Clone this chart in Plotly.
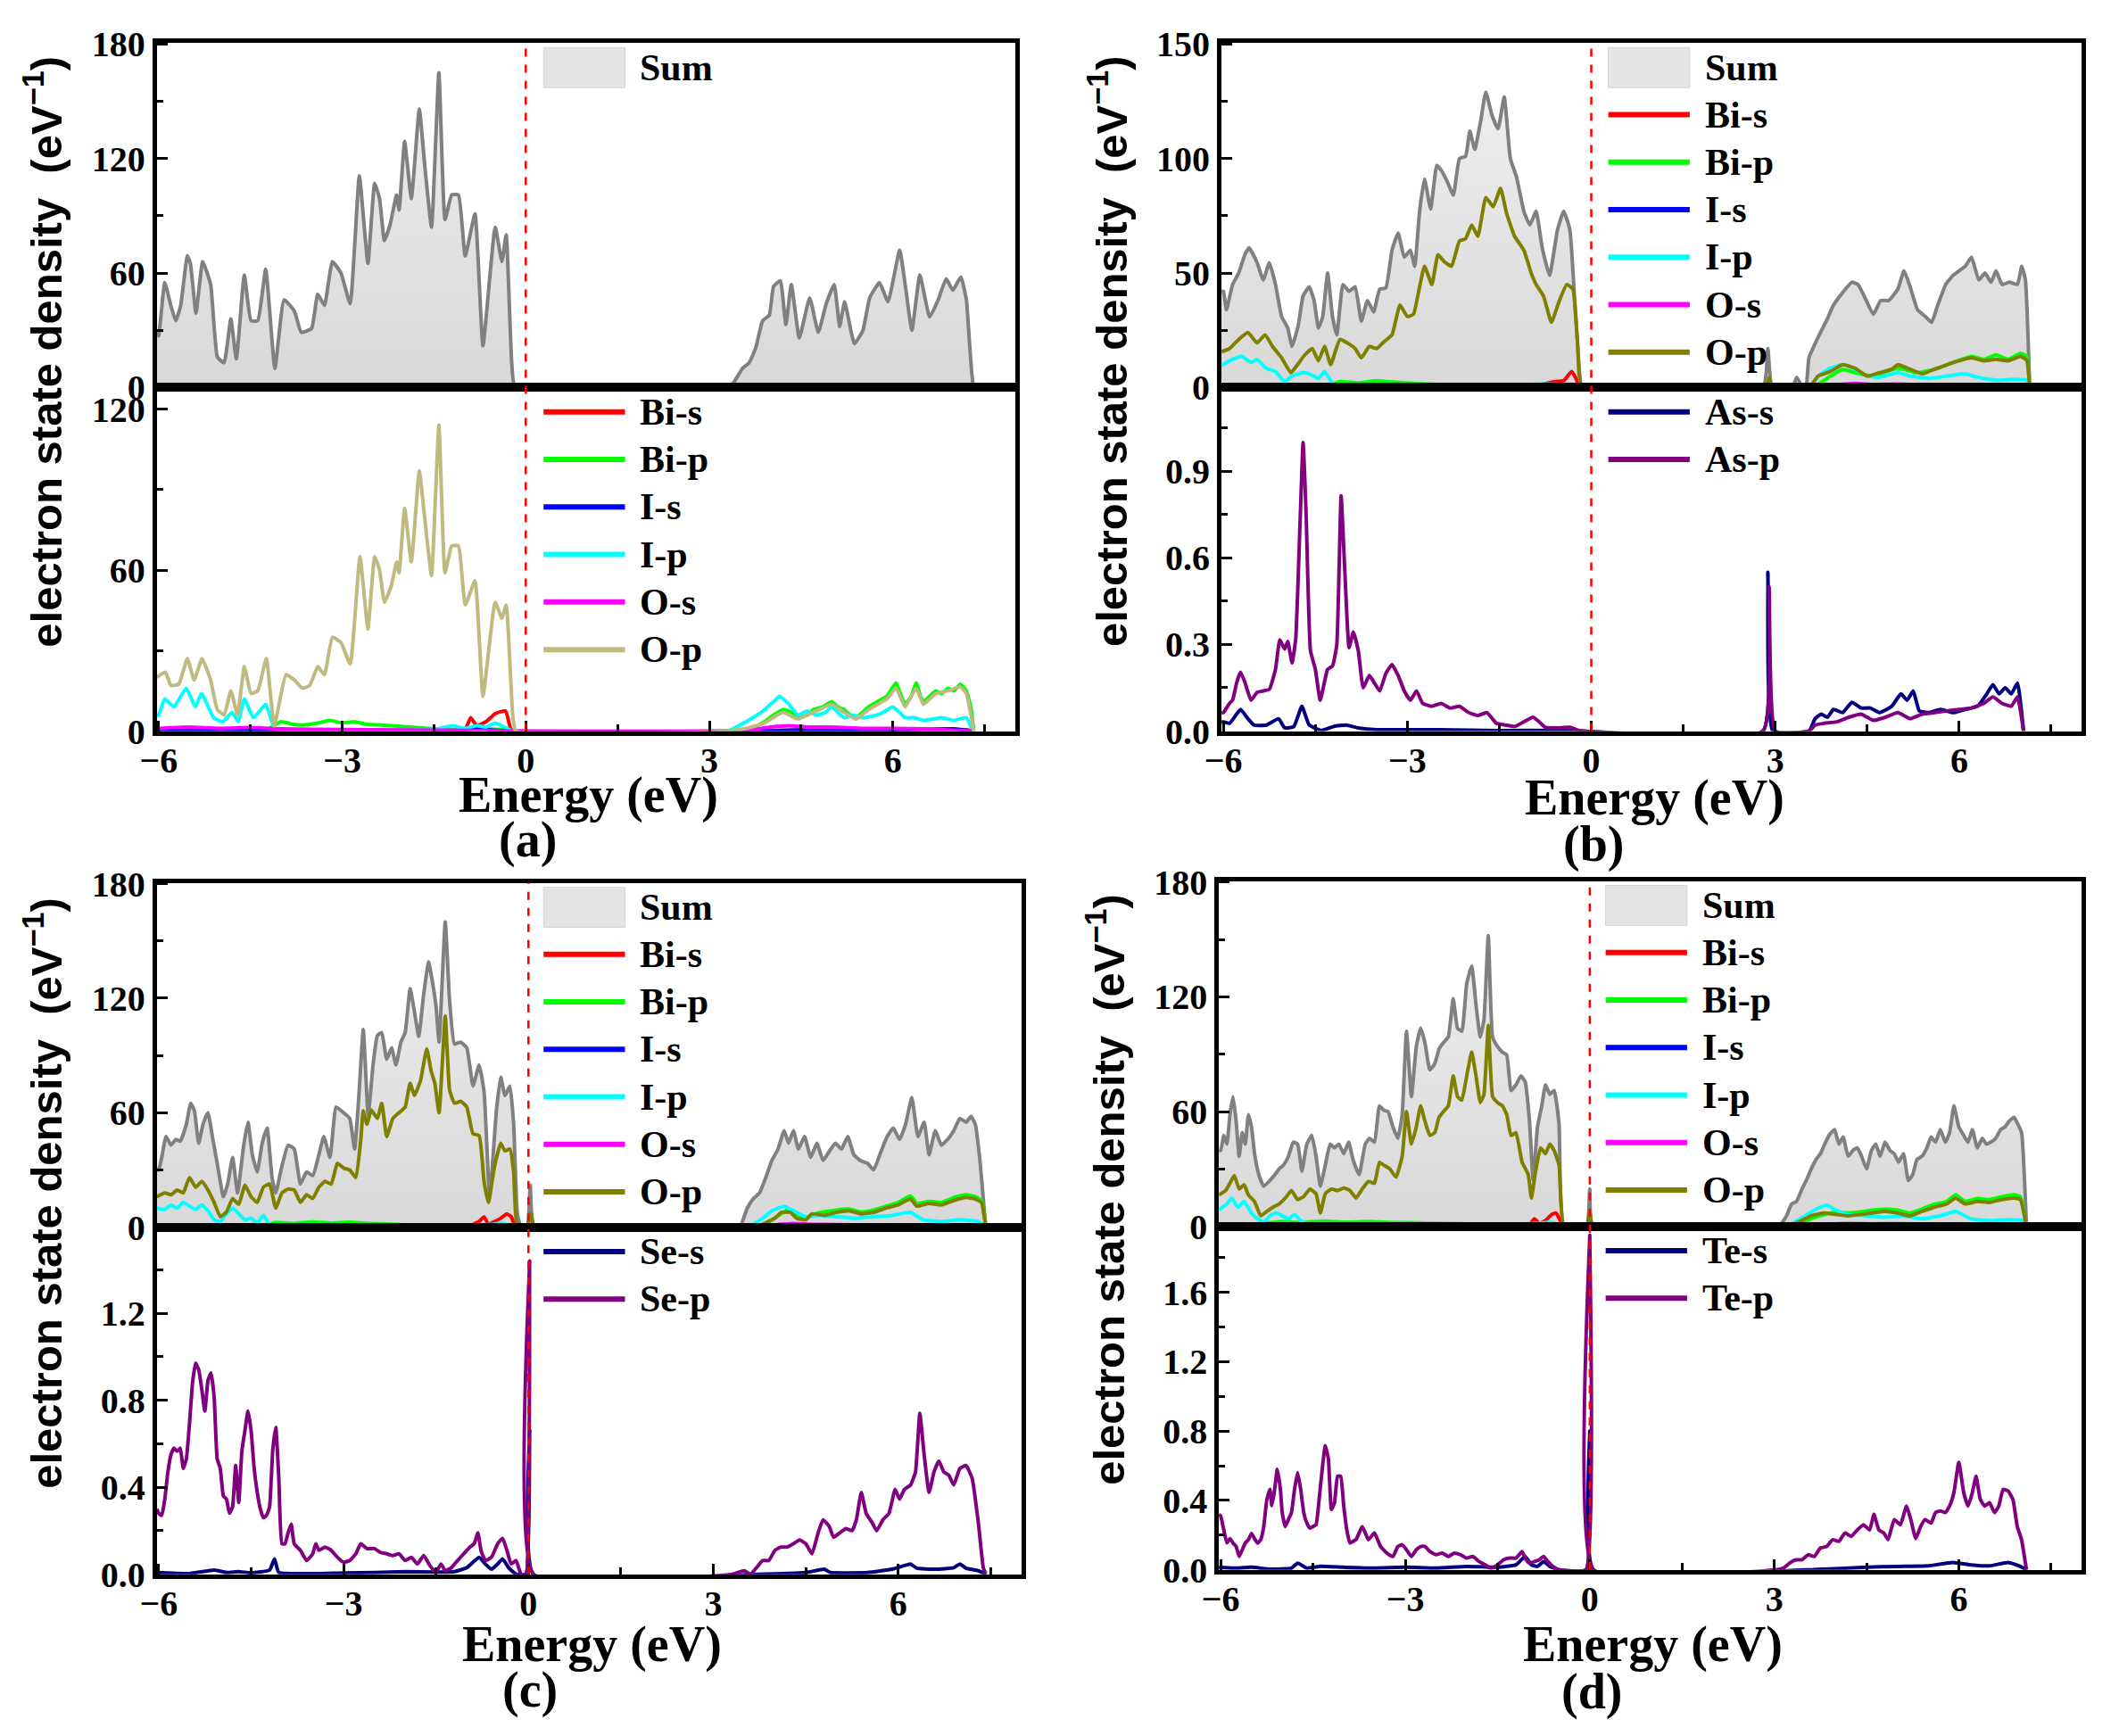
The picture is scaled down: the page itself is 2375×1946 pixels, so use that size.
import plotly.graph_objects as go

W, H = 2375, 1946

SUM_LINE = "#808080"
RED = "#FF0000"
GREEN = "#00FF00"
BLUE = "#0000FF"
CYAN = "#00FFFF"
MAGENTA = "#FF00FF"
OLIVE = "#808000"
KHAKI = "#BFBA80"
NAVY = "#000080"
PURPLE = "#800080"

# ---------------- data: (energy in eV, density of states) ----------------
# panel (a)
A_SUM = [(-6.03,30),(-6.0,27),(-5.9,55),(-5.8,43),(-5.72,35),(-5.64,43),(-5.53,69),(-5.48,65),(-5.39,39),(-5.28,66),
         (-5.15,54),(-5.04,16),(-4.93,13),(-4.82,36),(-4.73,15),(-4.6,59),(-4.49,35),(-4.38,35),(-4.25,62),(-4.1,10),
         (-3.95,46),(-3.78,40),(-3.67,29),(-3.5,31),(-3.4,49),(-3.29,43),(-3.16,66),(-3.02,60),(-2.87,44),(-2.72,111),
         (-2.58,65),(-2.47,107),(-2.39,99),(-2.31,77),(-2.22,85),(-2.11,101),(-2.07,93),(-1.98,129),(-1.87,99),(-1.74,146),
         (-1.65,116),(-1.54,84),(-1.42,165),(-1.32,88),(-1.21,101),(-1.1,101),(-0.99,69),(-0.83,91),(-0.7,22),(-0.5,84),
         (-0.39,66),(-0.32,80),(-0.23,13),(-0.17,0),(3.1,0),(3.16,1),(3.38,2),(3.54,10),(3.65,13),(3.76,21),(3.87,35),
         (3.98,38),(4.05,53),(4.16,56),(4.25,33),(4.34,54),(4.47,26),(4.64,47),(4.78,29),(4.91,44),(5.04,54),(5.13,32),
         (5.21,45),(5.37,23),(5.51,30),(5.62,47),(5.78,55),(5.92,45),(6.11,72),(6.2,54),(6.31,30),(6.44,59),(6.6,37),
         (6.74,46),(6.87,57),(6.98,51),(7.11,58),(7.2,46),(7.31,2),(7.37,0)]
A_BIS = [(-6.03,0.3),(-3.0,0.3),(-1.0,0.5),(-0.9,5),(-0.8,2),(-0.65,3.5),(-0.5,6.5),(-0.33,7.5),(-0.25,1),(-0.2,0),
         (3.5,0),(4.5,0.4),(6.0,0.5),(7.2,0.5),(7.3,0)]
A_BIP = [(-6.03,0.5),(-5.5,0.6),(-5.0,0.5),(-4.5,0.8),(-4.2,1),(-4.0,3.5),(-3.8,2.5),(-3.6,2.3),(-3.4,3),(-3.2,4),
         (-3.0,3),(-2.8,3.5),(-2.6,2.5),(-2.4,2.3),(-2.2,2),(-2.0,1.7),(-1.8,1.3),(-1.6,1),(-1.2,0.6),(-0.8,0.8),
         (-0.4,0.6),(-0.2,0),(3.5,0),(3.7,1),(3.9,3.5),(4.05,6),(4.2,8),(4.35,7),(4.45,5),(4.6,6),(4.7,8),(4.85,9),
         (5.0,11),(5.1,9),(5.2,8),(5.3,6),(5.4,5),(5.5,7),(5.6,9),(5.75,11),(5.9,13),(6.05,18),(6.12,14),(6.2,10),
         (6.3,13),(6.38,18),(6.45,13),(6.5,11),(6.6,13),(6.7,15),(6.8,14),(6.9,16),(7.0,15),(7.1,17.5),(7.2,15),
         (7.28,8),(7.32,0)]
A_IS = [(-6.03,0.2),(-4.0,0.2),(-1.0,0.3),(-0.7,1.5),(-0.6,0.5),(-0.2,0),(3.5,0),(4.5,0.4),(6.0,0.4),(7.0,0.8),(7.3,0)]
A_IP = [(-6.03,6),(-6.0,6),(-5.9,12),(-5.75,9),(-5.55,16),(-5.4,9),(-5.3,14),(-5.1,5),(-4.95,3.5),(-4.8,7),(-4.7,3.5),
        (-4.6,12),(-4.45,5),(-4.25,10),(-4.1,1),(-3.5,0.5),(-2.5,0.4),(-1.5,0.5),(-1.2,2),(-1.0,1),(-0.8,2),(-0.65,1.5),
        (-0.5,3),(-0.2,0),(3.3,0),(3.6,3.5),(3.85,7),(4.05,11),(4.15,13),(4.3,10),(4.45,6),(4.6,7.5),(4.75,6),(4.9,7),
        (5.0,9),(5.2,5),(5.35,6),(5.5,5),(5.65,5.5),(5.8,6.5),(6.0,9),(6.2,5),(6.35,5),(6.5,4),(6.65,4.5),(6.8,5),
        (7.0,4),(7.2,5),(7.3,0)]
A_OS = [(-6.03,1),(-5.5,1.5),(-5.0,1),(-4.5,1.3),(-4.0,0.8),(-3.0,0.6),(-2.0,0.4),(-1.0,0.3),(-0.2,0),(3.5,0),(4.0,1.5),
        (4.3,2),(4.6,1.5),(5.0,1.5),(5.5,1),(6.0,1),(6.5,0.8),(7.3,0)]
A_OP = [(-6.03,20),(-5.97,21),(-5.89,22),(-5.8,17),(-5.67,17.5),(-5.53,27),(-5.42,19),(-5.29,27),(-5.15,19),(-5.04,8),
        (-4.93,6),(-4.82,15),(-4.71,6),(-4.6,24),(-4.49,14),(-4.38,15),(-4.24,27),(-4.11,2),(-3.92,21),(-3.78,19),
        (-3.65,16),(-3.53,17),(-3.4,24),(-3.29,21),(-3.16,35),(-3.02,33),(-2.87,25),(-2.71,65),(-2.58,38),(-2.47,65),
        (-2.39,60),(-2.31,48),(-2.2,54),(-2.11,63),(-2.07,59),(-1.98,83),(-1.87,63),(-1.74,97),(-1.65,79),(-1.54,58),
        (-1.42,114),(-1.32,59),(-1.21,69),(-1.1,69),(-0.99,47),(-0.83,56),(-0.7,13),(-0.5,48),(-0.39,42),(-0.32,47),
        (-0.21,5),(-0.16,0),(3.3,0),(3.6,1),(3.9,3),(4.2,7),(4.45,4.5),(4.7,7),(5.0,10),(5.2,7),(5.4,4.5),(5.6,8),
        (5.9,12),(6.05,16),(6.2,9),(6.38,16),(6.5,10),(6.7,14),(6.9,15),(7.1,16.5),(7.2,14),(7.32,0)]

# panel (b)
B_SUM = [(-6.03,42),(-6.0,42),(-5.95,34),(-5.85,45),(-5.75,50),(-5.65,58),(-5.58,61),(-5.45,54.5),(-5.35,47),(-5.25,54.5),
         (-5.15,45),(-5.05,31),(-4.95,26),(-4.88,18),(-4.78,27),(-4.7,40),(-4.6,44),(-4.52,38),(-4.45,26),(-4.38,31),
         (-4.3,50),(-4.22,31),(-4.15,23),(-4.05,45),(-3.95,42),(-3.85,44),(-3.75,29),(-3.65,38),(-3.55,33),(-3.45,43),
         (-3.35,43.5),(-3.25,60),(-3.15,67.5),(-3.05,57),(-2.95,60),(-2.88,53),(-2.8,77),(-2.72,91),(-2.62,78),(-2.52,97),
         (-2.45,95),(-2.35,90),(-2.25,84),(-2.15,100),(-2.05,101),(-1.98,112),(-1.9,104),(-1.8,117),(-1.72,129),(-1.62,119),
         (-1.52,113),(-1.42,127),(-1.32,100),(-1.22,92),(-1.1,77),(-1.0,71),(-0.9,77),(-0.8,61),(-0.68,49),(-0.55,69),
         (-0.45,77),(-0.35,69),(-0.27,38),(-0.18,3),(-0.15,0),(2.8,0),(2.88,17),(2.95,0),(3.28,0),(3.35,4.5),(3.45,0),
         (3.5,0),(3.55,13),(3.7,22),(3.85,30),(3.95,36),(4.1,41.5),(4.25,46),(4.35,45),(4.45,40),(4.6,32),(4.72,38),
         (4.85,38),(5.0,43),(5.1,51),(5.2,44),(5.32,34),(5.45,31),(5.55,28.5),(5.65,36),(5.78,45),(5.9,49),(6.0,51),
         (6.1,53),(6.2,57),(6.32,47),(6.42,50),(6.52,46),(6.6,51),(6.7,45),(6.82,46),(6.95,45),(7.02,53),(7.08,47),(7.15,0)]
B_BIS = [(-6.03,0.3),(-1.0,0.3),(-0.6,2.6),(-0.45,3),(-0.32,7),(-0.25,4),(-0.18,0),(3.6,0),(5.0,0.4),(7.1,0.4),(7.15,0)]
B_BIP = [(-6.03,0.5),(-4.3,0.5),(-4.1,2.6),(-3.8,2),(-3.5,3),(-3.3,2.5),(-3.0,2),(-2.5,1.3),(-2.0,1),(-1.5,0.5),(-0.2,0.3),
         (-0.15,0),(3.6,0),(3.9,5),(4.1,8),(4.3,6.5),(4.6,5),(5.0,8.5),(5.3,6.5),(5.6,8),(5.9,11),(6.2,13.6),(6.4,12.3),
         (6.6,14.3),(6.8,12.3),(7.0,15),(7.1,13.6),(7.15,0)]
B_IS = [(-6.03,0.2),(-3.0,0.2),(-0.5,0.5),(-0.18,0),(3.6,0),(5.0,0.3),(7.1,0.5),(7.15,0)]
B_IP = [(-6.03,9.7),(-5.9,11.7),(-5.7,13.6),(-5.55,11),(-5.45,12.3),(-5.3,8.4),(-5.15,7),(-5.0,2.6),(-4.88,5),(-4.7,6.5),
        (-4.6,6),(-4.45,4),(-4.35,7),(-4.25,3),(-4.15,0.7),(-3.0,0.3),(-1.3,0.3),(-1.2,0.7),(-0.8,1.5),(-0.5,1.3),(-0.2,0),
        (3.55,0),(3.7,5),(3.9,8.5),(4.1,10),(4.3,8),(4.5,5),(4.7,4.5),(5.0,6.5),(5.2,5),(5.5,4),(5.8,5),(6.1,6),(6.3,4.5),
        (6.6,3.2),(6.9,3.6),(7.1,3.2),(7.15,0)]
B_OS = [(-6.03,1),(-5.5,1.2),(-5.0,0.8),(-4.5,1),(-4.0,0.6),(-3.0,0.4),(-2.0,0.3),(-0.2,0),(3.6,0),(4.0,1.2),(4.3,1.8),
        (4.6,1.3),(5.0,1.5),(5.5,1),(6.0,0.8),(7.1,0.5),(7.15,0)]
B_OP = [(-6.03,15.6),(-5.9,17),(-5.75,21),(-5.6,24),(-5.45,19.5),(-5.32,23),(-5.2,18),(-5.05,13),(-4.9,6.5),(-4.78,10.4),
        (-4.68,14),(-4.55,17),(-4.45,11.7),(-4.35,18),(-4.25,10),(-4.1,21),(-3.95,19),(-3.85,17),(-3.75,13),(-3.62,18),
        (-3.5,17),(-3.38,20),(-3.25,23),(-3.12,36),(-3.0,31),(-2.9,32),(-2.8,44),(-2.72,53),(-2.6,45),(-2.5,58),(-2.4,55),
        (-2.28,53),(-2.15,64),(-2.05,65),(-1.95,71),(-1.85,66),(-1.72,83),(-1.6,79),(-1.48,87),(-1.38,76),(-1.25,66),
        (-1.1,60),(-0.98,50),(-0.9,45),(-0.78,40),(-0.65,28.5),(-0.52,38),(-0.4,45),(-0.3,43),(-0.22,18),(-0.15,0),
        (2.85,0),(2.9,4.5),(2.95,0),(3.55,0),(3.7,5),(3.9,7),(4.1,10),(4.3,8.5),(4.5,5),(4.7,6.5),(4.9,8),(5.0,10),
        (5.2,8),(5.4,6),(5.6,8),(5.8,10),(6.0,11.7),(6.2,13),(6.4,11.7),(6.6,12.3),(6.8,11.7),(7.0,13.6),(7.1,12),(7.15,0)]
B_ASS = [(-6.03,0.032),(-6.0,0.032),(-5.9,0.027),(-5.8,0.054),(-5.72,0.075),(-5.6,0.043),(-5.5,0.021),(-5.3,0.021),
         (-5.1,0.043),(-5.0,0.011),(-4.85,0.016),(-4.72,0.086),(-4.6,0.021),(-4.4,0.002),(-4.2,0.016),(-4.0,0.021),
         (-3.8,0.011),(-3.5,0.005),(-2.5,0.005),(-1.5,0.002),(-0.5,0.002),(-0.15,0),(2.8,0),(2.88,0.55),(2.96,0),(3.55,0),
         (3.65,0.043),(3.75,0.059),(3.85,0.048),(3.95,0.075),(4.1,0.064),(4.25,0.1),(4.4,0.08),(4.55,0.08),(4.7,0.064),
         (4.9,0.086),(5.05,0.129),(5.15,0.107),(5.25,0.139),(5.35,0.07),(5.5,0.064),(5.7,0.075),(5.9,0.064),(6.1,0.075),
         (6.3,0.086),(6.45,0.129),(6.55,0.161),(6.65,0.129),(6.75,0.15),(6.85,0.129),(6.95,0.166),(7.05,0)]
B_ASP = [(-6.03,0.064),(-6.0,0.064),(-5.9,0.096),(-5.85,0.107),(-5.78,0.17),(-5.72,0.204),(-5.65,0.17),(-5.55,0.107),
         (-5.45,0.134),(-5.35,0.139),(-5.25,0.145),(-5.15,0.214),(-5.08,0.316),(-5.0,0.284),(-4.95,0.311),(-4.88,0.236),
         (-4.82,0.32),(-4.75,0.718),(-4.7,1.0),(-4.65,0.75),(-4.58,0.279),(-4.5,0.214),(-4.42,0.107),(-4.3,0.214),
         (-4.22,0.225),(-4.15,0.3),(-4.08,0.815),(-4.02,0.557),(-3.95,0.289),(-3.88,0.343),(-3.8,0.279),(-3.72,0.15),
         (-3.62,0.193),(-3.55,0.171),(-3.45,0.139),(-3.35,0.2),(-3.25,0.23),(-3.15,0.193),(-3.05,0.139),(-2.95,0.107),
         (-2.85,0.139),(-2.75,0.096),(-2.6,0.086),(-2.45,0.096),(-2.3,0.08),(-2.15,0.086),(-2.0,0.064),(-1.85,0.054),
         (-1.7,0.064),(-1.55,0.027),(-1.4,0.021),(-1.25,0.016),(-1.1,0.032),(-0.95,0.048),(-0.85,0.032),(-0.75,0.013),
         (-0.55,0.011),(-0.35,0.013),(-0.2,0.002),(-0.15,0),(2.8,0),(2.9,0.5),(3.0,0),(3.55,0),(3.65,0.021),(3.8,0.027),
         (4.0,0.032),(4.2,0.048),(4.4,0.059),(4.6,0.037),(4.8,0.048),(5.0,0.064),(5.2,0.043),(5.4,0.059),(5.6,0.064),
         (5.8,0.07),(6.0,0.075),(6.2,0.08),(6.4,0.096),(6.55,0.118),(6.7,0.096),(6.85,0.086),(6.95,0.118),(7.05,0)]

# panel (c)
C_SUM = [(-6.03,30),(-6.0,30),(-5.95,36.6),(-5.88,47.5),(-5.8,43),(-5.72,46),(-5.65,45),(-5.55,54),(-5.48,65),(-5.42,61),
         (-5.35,44),(-5.28,54),(-5.2,60),(-5.12,46),(-5.05,33.5),(-4.95,16),(-4.88,22.6),(-4.8,36.6),(-4.72,18),(-4.62,43),
         (-4.55,55),(-4.48,38),(-4.4,29),(-4.32,44),(-4.24,52),(-4.16,26),(-4.1,18),(-4.0,32),(-3.9,43),(-3.8,41),
         (-3.7,22.6),(-3.6,29),(-3.5,27),(-3.4,38),(-3.32,47.5),(-3.22,36.6),(-3.12,63),(-3.0,60),(-2.9,57),(-2.82,41),
         (-2.75,69.5),(-2.68,103.6),(-2.6,58.6),(-2.52,85.5),(-2.45,100.5),(-2.38,102),(-2.3,88),(-2.22,94),(-2.15,85),
         (-2.07,97),(-2.0,102),(-1.92,125),(-1.85,113),(-1.78,100),(-1.7,122),(-1.62,139),(-1.55,127),(-1.5,116),(-1.45,97),
         (-1.35,160),(-1.28,119),(-1.2,96),(-1.1,97),(-1.0,94),(-0.9,74),(-0.8,85),(-0.72,71),(-0.63,16),(-0.52,61),
         (-0.45,78.7),(-0.38,69),(-0.3,74),(-0.24,54),(-0.18,7),(-0.12,0),(-0.02,0),(0.03,22),(0.1,0),(3.3,0),(3.45,1.5),
         (3.55,10),(3.65,15),(3.75,18),(3.85,26),(3.95,35),(4.05,41),(4.15,50.6),(4.22,44),(4.3,50.6),(4.38,41),(4.48,47.5),
         (4.58,36.6),(4.68,44),(4.78,35),(4.88,39.7),(4.98,44),(5.08,41),(5.18,47.5),(5.28,38),(5.38,35),(5.5,33.5),
         (5.6,30),(5.72,39.7),(5.82,47.5),(5.92,52),(6.02,46),(6.12,54),(6.22,68),(6.32,47.5),(6.42,55),(6.5,38),
         (6.6,50.6),(6.7,43),(6.8,46),(6.9,50.6),(7.0,57),(7.1,55),(7.18,58),(7.25,54),(7.32,36.6),(7.42,0)]
C_BIS = [(-6.03,0.3),(-1.0,0.3),(-0.8,3),(-0.72,5.5),(-0.65,1.5),(-0.55,3),(-0.45,4.7),(-0.35,7),(-0.28,5.5),(-0.2,0),
         (3.6,0),(5.0,0.4),(7.3,0.5),(7.42,0)]
C_BIP = [(-6.03,0.5),(-4.3,0.6),(-4.1,2.5),(-3.8,2),(-3.5,2.8),(-3.2,2.2),(-2.9,2.6),(-2.6,2),(-2.3,1.7),(-2.0,1.3),
         (-1.6,1),(-1.2,0.8),(-0.8,0.6),(-0.2,0),(3.7,0),(3.9,3),(4.05,6),(4.2,9),(4.35,6.5),(4.5,5),(4.7,7.5),(5.0,9),
         (5.2,9.5),(5.4,8),(5.6,9),(5.8,11),(6.0,13),(6.2,16.5),(6.3,12.5),(6.5,13.5),(6.7,13),(6.9,15.5),(7.1,17),
         (7.25,16),(7.35,14),(7.42,0)]
C_IS = [(-6.03,0.2),(-3.0,0.2),(-0.5,0.5),(-0.2,0),(3.6,0),(4.2,0.8),(5.0,0.4),(7.2,0.8),(7.42,0)]
C_IP = [(-6.03,10),(-5.9,9.3),(-5.8,11.7),(-5.7,10),(-5.6,13),(-5.5,11),(-5.4,9.3),(-5.3,11.7),(-5.2,8.6),(-5.1,3.9),
        (-5.0,3),(-4.9,7),(-4.8,10),(-4.7,7),(-4.6,3.9),(-4.5,4.7),(-4.4,2.3),(-4.3,6.2),(-4.2,1.5),(-3.5,0.5),(-2.0,0.4),
        (-1.0,0.6),(-0.6,1.5),(-0.4,2),(-0.2,0),(3.55,0),(3.8,4.7),(3.95,8.6),(4.05,10),(4.15,11),(4.3,8.6),(4.5,5.5),
        (4.7,6.2),(5.0,5.5),(5.3,4.7),(5.6,5.5),(5.9,6.2),(6.2,7.8),(6.4,3.9),(6.7,3),(7.0,3.9),(7.3,3),(7.42,0)]
C_OS = [(-6.03,1),(-5.5,1.3),(-5.0,0.9),(-4.5,1),(-4.0,0.6),(-3.0,0.4),(-2.0,0.3),(-0.2,0),(3.6,0),(4.0,1.3),(4.3,2),
        (4.6,1.5),(5.0,1.4),(5.5,1),(6.0,0.9),(7.3,0.6),(7.42,0)]
C_OP = [(-6.03,16),(-5.9,18),(-5.8,17),(-5.7,19.5),(-5.6,18),(-5.5,26),(-5.4,21),(-5.3,24),(-5.2,19.5),(-5.1,13),
        (-5.0,5.5),(-4.9,8),(-4.8,15),(-4.7,12),(-4.6,22),(-4.5,16),(-4.4,13),(-4.3,21),(-4.2,22.6),(-4.1,10),(-4.0,18),
        (-3.9,20),(-3.8,19.5),(-3.7,13),(-3.6,17),(-3.5,15),(-3.4,21),(-3.3,24),(-3.2,22.6),(-3.1,33.5),(-3.0,31),
        (-2.9,30),(-2.8,26),(-2.72,46),(-2.68,61),(-2.62,54),(-2.55,61.5),(-2.45,57),(-2.38,65),(-2.3,47.5),(-2.2,57),
        (-2.1,60),(-2.0,63),(-1.92,75.5),(-1.85,69),(-1.75,77),(-1.65,93.5),(-1.58,82),(-1.52,75.5),(-1.45,60),
        (-1.35,110.6),(-1.28,72),(-1.2,65),(-1.1,66),(-1.0,63),(-0.9,49),(-0.8,48),(-0.72,24),(-0.65,13),(-0.55,32),
        (-0.45,44),(-0.38,40),(-0.3,41),(-0.24,29),(-0.18,0),(-0.02,0),(0.03,7),(0.1,0),(3.7,0),(3.85,2.3),(4.0,4.7),
        (4.1,7.8),(4.25,7.8),(4.35,4.7),(4.5,3.9),(4.6,7),(4.8,6.2),(5.0,7.8),(5.2,8.6),(5.4,7),(5.6,7.8),(5.8,10),
        (6.0,11.7),(6.2,14.8),(6.3,11),(6.5,12.5),(6.7,11.7),(6.9,14),(7.1,15.6),(7.25,14.8),(7.35,13),(7.42,0)]
C_SES = [(-6.03,0.008),(-5.5,0.003),(-5.1,0.019),(-4.9,0.008),(-4.7,0.012),(-4.5,0.006),(-4.2,0.019),(-4.12,0.07),
         (-4.05,0.008),(-3.5,0.003),(-3.0,0.006),(-2.5,0.008),(-2.0,0.012),(-1.5,0.01),(-1.2,0.012),(-1.0,0.03),(-0.9,0.055),
         (-0.8,0.078),(-0.7,0.047),(-0.6,0.023),(-0.5,0.047),(-0.42,0.07),(-0.32,0.03),(-0.2,0),(-0.04,0),(0.02,0.66),
         (0.08,0),(3.7,0),(4.5,0.008),(4.8,0.023),(4.9,0.008),(5.5,0.008),(5.9,0.023),(6.1,0.04),(6.2,0.047),(6.3,0.028),
         (6.6,0.023),(6.9,0.03),(7.0,0.047),(7.1,0.028),(7.3,0.016),(7.42,0)]
C_SEP = [(-6.03,0.3),(-6.0,0.28),(-5.95,0.27),(-5.9,0.345),(-5.85,0.47),(-5.8,0.55),(-5.75,0.58),(-5.7,0.565),(-5.65,0.58),
         (-5.6,0.486),(-5.55,0.53),(-5.5,0.69),(-5.45,0.88),(-5.4,0.97),(-5.35,0.94),(-5.3,0.85),(-5.25,0.75),(-5.2,0.89),
         (-5.15,0.925),(-5.1,0.816),(-5.05,0.53),(-5.0,0.486),(-4.95,0.36),(-4.9,0.345),(-4.85,0.28),(-4.8,0.31),
         (-4.75,0.5),(-4.7,0.33),(-4.65,0.565),(-4.6,0.66),(-4.55,0.75),(-4.5,0.66),(-4.45,0.486),(-4.4,0.376),
         (-4.35,0.3),(-4.3,0.26),(-4.25,0.27),(-4.2,0.31),(-4.15,0.565),(-4.1,0.675),(-4.05,0.44),(-4.0,0.14),
         (-3.95,0.14),(-3.9,0.19),(-3.85,0.23),(-3.8,0.14),(-3.7,0.11),(-3.6,0.063),(-3.5,0.094),(-3.45,0.14),(-3.4,0.11),
         (-3.3,0.125),(-3.2,0.11),(-3.1,0.078),(-3.0,0.055),(-2.9,0.063),(-2.8,0.094),(-2.72,0.14),(-2.62,0.118),
         (-2.5,0.118),(-2.4,0.1),(-2.3,0.094),(-2.2,0.086),(-2.1,0.094),(-2.0,0.063),(-1.9,0.078),(-1.8,0.047),
         (-1.7,0.086),(-1.6,0.04),(-1.5,0.008),(-1.42,0.047),(-1.35,0.016),(-1.25,0.03),(-1.15,0.063),(-1.05,0.094),
         (-0.95,0.125),(-0.88,0.14),(-0.82,0.19),(-0.77,0.11),(-0.7,0.063),(-0.6,0.078),(-0.5,0.14),(-0.42,0.165),
         (-0.35,0.11),(-0.28,0.047),(-0.2,0.063),(-0.12,0),(-0.04,0),(0.02,1.44),(0.08,0),(3.3,0),(3.5,0.016),(3.6,0),
         (3.7,0.03),(3.8,0.063),(3.9,0.063),(4.0,0.11),(4.1,0.125),(4.2,0.125),(4.3,0.14),(4.4,0.157),(4.5,0.14),
         (4.6,0.094),(4.7,0.19),(4.78,0.25),(4.88,0.22),(4.95,0.17),(5.05,0.19),(5.15,0.21),(5.25,0.2),(5.32,0.25),
         (5.4,0.376),(5.48,0.28),(5.58,0.235),(5.65,0.2),(5.75,0.25),(5.85,0.28),(5.95,0.39),(6.02,0.345),(6.1,0.39),
         (6.2,0.41),(6.28,0.47),(6.35,0.74),(6.42,0.55),(6.5,0.376),(6.58,0.47),(6.66,0.52),(6.74,0.47),(6.82,0.455),
         (6.9,0.41),(7.0,0.486),(7.1,0.5),(7.2,0.44),(7.3,0.235),(7.38,0.03),(7.42,0)]

# panel (d)
D_SUM = [(-6.03,39.7),(-6.0,39.7),(-5.95,47.5),(-5.9,43),(-5.85,58.4),(-5.8,67.8),(-5.75,55),(-5.7,36.6),(-5.65,49),
         (-5.6,43),(-5.55,58.4),(-5.5,52),(-5.45,38),(-5.38,27),(-5.3,21),(-5.2,24),(-5.12,27),(-5.05,30),(-4.98,32),
         (-4.9,36.6),(-4.82,44),(-4.75,43),(-4.68,28.8),(-4.6,43),(-4.52,47.5),(-4.45,36.6),(-4.38,21),(-4.3,32),(-4.22,43),
         (-4.15,41),(-4.08,43),(-4.0,38),(-3.92,44),(-3.85,35),(-3.75,27),(-3.65,43),(-3.58,46),(-3.5,44),(-3.42,63),
         (-3.35,60.7),(-3.28,60),(-3.2,52),(-3.12,46),(-3.05,58.4),(-2.98,102),(-2.9,67.8),(-2.82,94),(-2.75,103.6),
         (-2.68,96),(-2.6,81.8),(-2.52,85),(-2.45,92.7),(-2.38,96),(-2.3,99),(-2.22,119),(-2.15,103.6),(-2.08,102),
         (-2.0,127),(-1.92,136),(-1.85,116),(-1.78,99),(-1.72,108),(-1.65,152),(-1.58,99),(-1.5,94),(-1.42,91),(-1.35,89.6),
         (-1.28,71),(-1.2,74),(-1.12,78.7),(-1.05,75.5),(-0.98,55),(-0.92,24),(-0.85,52),(-0.78,63),(-0.72,74),(-0.65,69),
         (-0.58,71),(-0.5,53.7),(-0.42,0),(-0.05,0),(0.0,19.5),(0.05,0),(3.0,0),(3.1,0.8),(3.2,5.5),(3.28,11.7),(3.36,13),
         (3.45,19.5),(3.52,24),(3.6,30),(3.68,35),(3.75,38),(3.82,43),(3.9,48),(3.98,50.6),(4.05,43),(4.12,46.7),(4.2,36.6),
         (4.28,39.7),(4.35,41),(4.42,36.6),(4.5,30),(4.58,39.7),(4.65,43),(4.72,36.6),(4.8,44),(4.88,39.7),(4.95,38),
         (5.02,33.5),(5.1,38),(5.18,24),(5.25,27),(5.32,35),(5.4,36.6),(5.48,41),(5.55,46.7),(5.62,44),(5.7,50.6),(5.78,44),
         (5.85,49),(5.92,63),(6.0,52),(6.08,47.5),(6.15,44),(6.22,50.6),(6.3,41),(6.38,46),(6.45,43),(6.52,44),(6.6,46),
         (6.68,50.6),(6.75,52),(6.82,55),(6.9,57),(6.95,54),(7.02,49),(7.1,0)]
D_BIS = [(-6.03,0.3),(-1.0,0.3),(-0.9,3.9),(-0.82,1.5),(-0.72,3),(-0.62,6.2),(-0.55,7),(-0.48,3),(-0.42,0),(3.3,0),
         (5.0,0.4),(7.05,0.5),(7.1,0)]
D_BIP = [(-6.03,0.5),(-5.3,1.5),(-5.0,2.5),(-4.7,2),(-4.3,2.8),(-4.0,2.2),(-3.6,2.5),(-3.2,2),(-2.8,1.8),(-2.4,1.5),
         (-2.0,1.2),(-1.5,1),(-1.0,0.8),(-0.45,0),(3.3,0),(3.6,4),(3.8,6),(4.0,7.5),(4.2,7),(4.4,7.5),(4.6,8.5),(4.8,9),
         (5.0,8.5),(5.2,7),(5.4,9),(5.6,11.5),(5.8,13),(5.95,16.5),(6.1,13),(6.3,14.5),(6.5,14),(6.7,15.5),(6.9,16.5),
         (7.0,15.5),(7.1,0)]
D_IS = [(-6.03,0.2),(-3.0,0.2),(-0.6,0.5),(-0.42,0),(3.3,0),(5.0,0.3),(7.05,0.6),(7.1,0)]
D_IP = [(-6.03,8.6),(-5.9,11.7),(-5.82,14.8),(-5.72,10),(-5.62,13),(-5.5,7),(-5.4,3.9),(-5.3,2.3),(-5.2,5.5),(-5.1,7),
        (-5.0,5.5),(-4.9,3.9),(-4.8,6.2),(-4.7,3),(-4.6,1.5),(-4.4,0.8),(-3.0,0.4),(-1.5,0.5),(-0.9,1.5),(-0.6,2),(-0.42,0),
        (3.2,0),(3.5,5.5),(3.7,9.3),(3.85,11),(4.0,8.6),(4.2,6.2),(4.5,5.5),(4.8,4.7),(5.1,5.5),(5.4,3.9),(5.7,5.5),
        (5.95,7.8),(6.2,3.9),(6.5,3),(6.8,3.5),(7.05,3),(7.1,0)]
D_OS = [(-6.03,1.2),(-5.5,1),(-5.0,0.8),(-4.5,0.9),(-4.0,0.6),(-3.0,0.4),(-2.0,0.3),(-0.42,0),(3.3,0),(3.8,1),(4.2,1.5),
        (4.6,1.3),(5.0,1.4),(5.5,1),(6.0,0.8),(7.05,0.5),(7.1,0)]
D_OP = [(-6.03,16.4),(-5.92,18.7),(-5.85,22.6),(-5.78,26.5),(-5.7,19.5),(-5.62,21.8),(-5.55,16.4),(-5.45,13),(-5.35,5.5),
        (-5.25,7.8),(-5.15,10),(-5.05,11.7),(-4.95,14.8),(-4.85,18.7),(-4.75,14),(-4.65,15.6),(-4.55,19.5),(-4.45,17),
        (-4.38,7),(-4.3,17),(-4.2,19.5),(-4.1,18.7),(-4.0,20),(-3.9,18.7),(-3.8,14.8),(-3.7,19.5),(-3.6,23.4),(-3.5,22.6),
        (-3.42,33.5),(-3.35,32),(-3.25,30),(-3.15,25.7),(-3.05,36.6),(-2.98,60),(-2.9,43),(-2.82,52),(-2.75,63),(-2.68,55),
        (-2.6,47.5),(-2.52,49),(-2.45,57),(-2.38,60),(-2.3,63),(-2.22,78.7),(-2.15,67.8),(-2.08,66),(-2.0,78.7),(-1.92,91),
        (-1.85,78.7),(-1.78,64.7),(-1.72,69),(-1.65,105),(-1.58,67.8),(-1.5,64.7),(-1.42,63),(-1.35,58.4),(-1.28,47.5),
        (-1.2,49),(-1.1,33.5),(-1.0,27),(-0.95,14.8),(-0.88,28.8),(-0.8,41),(-0.72,38),(-0.65,43),(-0.58,39.7),(-0.5,32),
        (-0.42,0),(-0.05,0),(0.0,7.8),(0.05,0),(3.2,0),(3.4,2.3),(3.6,5.5),(3.8,7),(4.0,6.2),(4.2,5.5),(4.4,6.2),(4.6,7),
        (4.8,7.8),(5.0,7),(5.2,5.5),(5.4,7.8),(5.6,10),(5.8,11.7),(5.95,14.8),(6.1,11.7),(6.3,13),(6.5,12.5),(6.7,14),
        (6.9,14.8),(7.0,14),(7.1,0)]
D_TES = [(-6.03,0.015),(-5.8,0.01),(-5.5,0.015),(-5.2,0.004),(-4.85,0.01),(-4.75,0.039),(-4.6,0.01),(-4.4,0.02),
         (-4.0,0.015),(-3.5,0.01),(-3.0,0.015),(-2.5,0.01),(-2.0,0.02),(-1.5,0.015),(-1.2,0.029),(-1.05,0.077),
         (-0.95,0.029),(-0.85,0.02),(-0.75,0.048),(-0.65,0.02),(-0.5,0),(-0.06,0),(0.0,0.8),(0.06,0),(3.5,0),(3.8,0.004),
         (4.5,0.015),(5.0,0.02),(5.5,0.023),(5.9,0.043),(6.2,0.029),(6.5,0.023),(6.8,0.043),(7.0,0.02),(7.1,0)]
D_TEP = [(-6.03,0.32),(-6.0,0.31),(-5.95,0.23),(-5.9,0.155),(-5.85,0.18),(-5.8,0.155),(-5.75,0.135),(-5.7,0.077),
         (-5.65,0.116),(-5.6,0.155),(-5.55,0.174),(-5.5,0.21),(-5.45,0.18),(-5.4,0.155),(-5.35,0.174),(-5.3,0.25),
         (-5.25,0.406),(-5.2,0.464),(-5.17,0.37),(-5.13,0.445),(-5.08,0.58),(-5.03,0.464),(-5.0,0.33),(-4.95,0.25),
         (-4.9,0.29),(-4.85,0.33),(-4.8,0.464),(-4.75,0.56),(-4.7,0.464),(-4.65,0.33),(-4.6,0.27),(-4.55,0.24),(-4.5,0.25),
         (-4.45,0.26),(-4.4,0.406),(-4.35,0.58),(-4.3,0.716),(-4.25,0.64),(-4.2,0.348),(-4.15,0.387),(-4.1,0.54),
         (-4.05,0.54),(-4.0,0.368),(-3.95,0.23),(-3.9,0.155),(-3.85,0.164),(-3.8,0.174),(-3.75,0.213),(-3.7,0.25),
         (-3.65,0.213),(-3.6,0.174),(-3.55,0.193),(-3.5,0.213),(-3.45,0.174),(-3.4,0.135),(-3.3,0.097),(-3.2,0.077),
         (-3.12,0.135),(-3.05,0.145),(-2.98,0.116),(-2.9,0.077),(-2.82,0.116),(-2.75,0.135),(-2.68,0.135),(-2.6,0.106),
         (-2.5,0.087),(-2.4,0.097),(-2.3,0.077),(-2.2,0.097),(-2.1,0.087),(-2.0,0.068),(-1.9,0.077),(-1.8,0.048),
         (-1.7,0.029),(-1.6,0.01),(-1.5,0.029),(-1.4,0.058),(-1.3,0.068),(-1.2,0.068),(-1.1,0.106),(-1.05,0.068),
         (-0.98,0.039),(-0.9,0.048),(-0.82,0.058),(-0.75,0.077),(-0.68,0.048),(-0.6,0.02),(-0.5,0),(-0.06,0),(0.0,1.93),
         (0.06,0),(3.0,0),(3.15,0.01),(3.25,0.039),(3.35,0.058),(3.45,0.058),(3.55,0.087),(3.65,0.077),(3.75,0.126),
         (3.85,0.135),(3.95,0.174),(4.05,0.164),(4.15,0.213),(4.25,0.193),(4.35,0.23),(4.45,0.26),(4.55,0.23),(4.62,0.32),
         (4.7,0.23),(4.78,0.213),(4.85,0.174),(4.95,0.29),(5.05,0.26),(5.15,0.368),(5.22,0.29),(5.3,0.18),(5.38,0.25),
         (5.45,0.29),(5.55,0.27),(5.62,0.33),(5.7,0.34),(5.78,0.33),(5.85,0.368),(5.92,0.445),(6.0,0.62),(6.08,0.445),
         (6.15,0.368),(6.22,0.445),(6.28,0.54),(6.35,0.406),(6.42,0.368),(6.5,0.387),(6.58,0.33),(6.65,0.368),
         (6.72,0.464),(6.8,0.455),(6.88,0.406),(6.95,0.25),(7.02,0.174),(7.1,0)]

X_RANGE = [-6.03, 8.0]
X_TICKS = [-6, -3, 0, 3, 6]

panels = [
    dict(label="(a)", x0=158, x1=1128, yt=28, ym=423, yb=817, lab_dy=(74, 125),
         top_max=180.5, top_dt=60, bot_max=128, bot_dt=60, bot_fmt="d",
         top=[("Sum", A_SUM, SUM_LINE)],
         bot=[("Bi-s", A_BIS, RED), ("Bi-p", A_BIP, GREEN), ("I-s", A_IS, BLUE),
              ("I-p", A_IP, CYAN), ("O-s", A_OS, MAGENTA), ("O-p", A_OP, KHAKI)]),
    dict(label="(b)", x0=1361, x1=2333, yt=28, ym=423, yb=817, lab_dy=(77, 130),
         top_max=150.4, top_dt=50, bot_max=1.19, bot_dt=0.3, bot_fmt=".1f",
         top=[("Sum", B_SUM, SUM_LINE), ("Bi-s", B_BIS, RED), ("Bi-p", B_BIP, GREEN), ("I-s", B_IS, BLUE),
              ("I-p", B_IP, CYAN), ("O-s", B_OS, MAGENTA), ("O-p", B_OP, OLIVE)],
         bot=[("As-s", B_ASS, NAVY), ("As-p", B_ASP, PURPLE)]),
    dict(label="(c)", x0=158, x1=1135, yt=991, ym=1386, yb=1784, lab_dy=(81, 133),
         top_max=180.5, top_dt=60, bot_max=1.595, bot_dt=0.4, bot_fmt=".1f",
         top=[("Sum", C_SUM, SUM_LINE), ("Bi-s", C_BIS, RED), ("Bi-p", C_BIP, GREEN), ("I-s", C_IS, BLUE),
              ("I-p", C_IP, CYAN), ("O-s", C_OS, MAGENTA), ("O-p", C_OP, OLIVE)],
         bot=[("Se-s", C_SES, NAVY), ("Se-p", C_SEP, PURPLE)]),
    dict(label="(d)", x0=1358, x1=2333, yt=989, ym=1385, yb=1779, lab_dy=(86, 140),
         top_max=180.5, top_dt=60, bot_max=1.98, bot_dt=0.4, bot_fmt=".1f",
         top=[("Sum", D_SUM, SUM_LINE), ("Bi-s", D_BIS, RED), ("Bi-p", D_BIP, GREEN), ("I-s", D_IS, BLUE),
              ("I-p", D_IP, CYAN), ("O-s", D_OS, MAGENTA), ("O-p", D_OP, OLIVE)],
         bot=[("Te-s", D_TES, NAVY), ("Te-p", D_TEP, PURPLE)]),
]


def px(x):
    return x / W


def py(y):
    return 1 - y / H


def aid(k):
    return "" if k == 1 else str(k)


TICKFONT = dict(family="Liberation Serif", size=40, color="black", weight="bold")
LEGFONT = dict(family="Liberation Serif", size=42, color="black", weight="bold")
BIGFONT = dict(family="Liberation Serif", size=56, color="black", weight="bold")

fig = go.Figure()
shapes = []
annotations = []
axes = {}

for i, p in enumerate(panels):
    kt, kb = 2 * i + 1, 2 * i + 2
    for k, curves in ((kt, p["top"]), (kb, p["bot"])):
        for name, curve, color in curves:
            e = [c[0] for c in curve]
            v = [c[1] for c in curve]
            if name == "Sum":
                fig.add_trace(go.Scatter(
                    x=e, y=v, mode="lines", name=name,
                    xaxis="x" + aid(k), yaxis="y" + aid(k),
                    line=dict(color=color, width=4, shape="spline", smoothing=0.4),
                    fill="tozeroy",
                    fillgradient=dict(type="vertical", colorscale=[[0, "#D8D8D8"], [1, "#EEEEEE"]]),
                    showlegend=False, hoverinfo="skip",
                ))
            else:
                fig.add_trace(go.Scatter(
                    x=e, y=v, mode="lines", name=name,
                    xaxis="x" + aid(k), yaxis="y" + aid(k),
                    line=dict(color=color, width=4, shape="spline", smoothing=0.4),
                    showlegend=False, hoverinfo="skip",
                ))

    common_x = dict(range=X_RANGE, showline=True, linecolor="black", linewidth=5, mirror=True,
                    showgrid=False, zeroline=False, domain=[px(p["x0"]), px(p["x1"])])
    common_y = dict(showline=True, linecolor="black", linewidth=5, mirror=True,
                    showgrid=False, zeroline=False, tickfont=TICKFONT,
                    ticks="inside", ticklen=12, tickwidth=3, tickcolor="black", tick0=0)

    axes["xaxis" + aid(kt)] = dict(common_x, anchor="y" + aid(kt), showticklabels=False, ticks="")
    axes["xaxis" + aid(kb)] = dict(common_x, anchor="y" + aid(kb), tickvals=X_TICKS, tickfont=TICKFONT,
                                   ticks="inside", ticklen=12, tickwidth=3, tickcolor="black",
                                   ticklabelstandoff=-7,
                                   minor=dict(ticks="inside", ticklen=8, tickwidth=3, tickcolor="black",
                                              dtick=1.5, tick0=0))
    axes["yaxis" + aid(kt)] = dict(common_y, anchor="x" + aid(kt), domain=[py(p["ym"]), py(p["yt"])],
                                   range=[0, p["top_max"]], dtick=p["top_dt"],
                                   minor=dict(ticks="inside", ticklen=7, tickwidth=3, tickcolor="black",
                                              dtick=p["top_dt"] / 2, tick0=0))
    axes["yaxis" + aid(kb)] = dict(common_y, anchor="x" + aid(kb), domain=[py(p["yb"]), py(p["ym"])],
                                   range=[0, p["bot_max"]], dtick=p["bot_dt"], tickformat=p["bot_fmt"],
                                   minor=dict(ticks="inside", ticklen=7, tickwidth=3, tickcolor="black",
                                              dtick=p["bot_dt"] / 2, tick0=0))

    # Fermi level
    shapes.append(dict(type="line", xref="x" + aid(kb), yref="paper", x0=0, x1=0,
                       y0=py(p["yb"]), y1=py(p["yt"]), line=dict(color="red", width=2.5, dash="dash"),
                       layer="above"))

    # legends
    lx0 = p["x0"] + 437
    lx1 = lx0 + 92
    tx = lx0 + 107
    for j, (name, curve, color) in enumerate(p["top"]):
        if name == "Sum":
            cy = p["yt"] + 28
            shapes.append(dict(type="rect", xref="paper", yref="paper", x0=px(lx0), x1=px(lx1),
                               y0=py(cy + 23), y1=py(cy - 23), fillcolor="#E4E4E4",
                               line=dict(color="#D4D4D4", width=1)))
        else:
            cy = p["yt"] + 82 + (j - 1) * 54.5
            shapes.append(dict(type="line", xref="paper", yref="paper", x0=px(lx0), x1=px(lx1),
                               y0=py(cy), y1=py(cy), line=dict(color=color, width=6)))
        annotations.append(dict(text=name, x=px(tx), y=py(cy), xref="paper", yref="paper",
                                xanchor="left", yanchor="middle", showarrow=False, font=LEGFONT))
    for j, (name, curve, color) in enumerate(p["bot"]):
        cy = p["ym"] + 28 + j * 54.5
        shapes.append(dict(type="line", xref="paper", yref="paper", x0=px(lx0), x1=px(lx1),
                           y0=py(cy), y1=py(cy), line=dict(color=color, width=6)))
        annotations.append(dict(text=name, x=px(tx), y=py(cy), xref="paper", yref="paper",
                                xanchor="left", yanchor="middle", showarrow=False, font=LEGFONT))

    # axis titles and panel label
    annotations.append(dict(text="Energy (eV)", x=px((p["x0"] + p["x1"]) / 2 + 3), y=py(p["yb"] + p["lab_dy"][0]),
                            xref="paper", yref="paper", showarrow=False, xanchor="center", yanchor="middle",
                            font=BIGFONT))
    zero_x = p["x0"] + (0 - X_RANGE[0]) / (X_RANGE[1] - X_RANGE[0]) * (p["x1"] - p["x0"])
    annotations.append(dict(text=p["label"], x=px(zero_x + 2), y=py(p["yb"] + p["lab_dy"][1]),
                            xref="paper", yref="paper", showarrow=False, xanchor="center", yanchor="middle",
                            font=BIGFONT))
    annotations.append(dict(text="electron state density&nbsp; (eV<sup>\u22121</sup>)",
                            x=px(p["x0"] - 128), y=py((p["yt"] + p["yb"]) / 2 - 41),
                            xref="paper", yref="paper", showarrow=False, textangle=-90,
                            xanchor="center", yanchor="middle",
                            font=dict(family="Liberation Sans", size=49, color="black", weight="bold")))

fig.update_layout(
    width=W, height=H,
    margin=dict(l=0, r=0, t=0, b=0),
    paper_bgcolor="white", plot_bgcolor="white",
    showlegend=False,
    shapes=shapes, annotations=annotations,
    **axes,
)

fig.write_html("out.html", config={"displayModeBar": False},
               post_script="document.body.style.margin='0';")
